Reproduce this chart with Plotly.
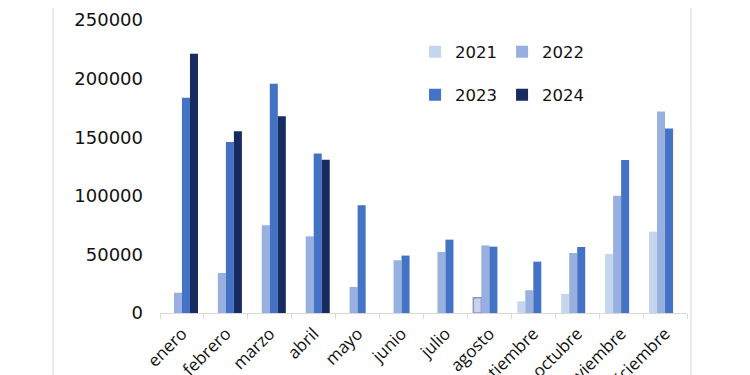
import plotly.graph_objects as go

months = ["enero", "febrero", "marzo", "abril", "mayo", "junio", "julio",
          "agosto", "septiembre", "octubre", "noviembre", "diciembre"]

v2021 = [None, None, None, None, None, None, None, 13100, 10000, 16200, 50300, 69400]
v2022 = [17300, 34100, 74800, 65400, 22200, 45000, 52000, 57700, 19400, 51200, 100100, 172000]
v2023 = [183600, 145900, 195700, 136000, 91900, 49000, 62600, 56600, 43800, 56300, 130500, 157500]
v2024 = [221300, 155000, 167800, 130800, None, None, None, None, None, None, None, None]

years = ["2021", "2022", "2023", "2024"]
colors = ["#C6D5EE", "#98B0DF", "#4472C4", "#172B60"]
legend_of = ["legend", "legend", "legend2", "legend2"]

line_2021 = ["#9D8FC4" if m == "agosto" else "rgba(0,0,0,0)" for m in months]

fig = go.Figure()
for yr, vals, col, lg in zip(years, [v2021, v2022, v2023, v2024], colors, legend_of):
    mk = dict(color=col)
    if yr == "2021":
        mk["line"] = dict(color=line_2021, width=1.5)
    else:
        mk["line"] = dict(width=0)
    fig.add_trace(go.Bar(name=yr, x=months, y=vals, marker=mk, legend=lg))

font = "Open Sans, Liberation Sans, sans-serif"
numfont = "DejaVu Sans, sans-serif"

fig.update_layout(
    width=750, height=375,
    margin=dict(l=152, r=71, t=12, b=70, autoexpand=False),
    paper_bgcolor="white", plot_bgcolor="white",
    barmode="group", bargap=0.27, bargroupgap=0,
    font=dict(family=font, color="#111111", size=18),
    showlegend=True,
    legend=dict(orientation="h", x=0.484, y=0.891, xanchor="left", yanchor="middle",
                font=dict(size=16.5, family=numfont), bgcolor="rgba(0,0,0,0)",
                traceorder="normal"),
    legend2=dict(orientation="h", x=0.484, y=0.744, xanchor="left", yanchor="middle",
                 font=dict(size=16.5, family=numfont), bgcolor="rgba(0,0,0,0)",
                 traceorder="normal"),
    xaxis=dict(
        type="category", tickangle=-45, tickfont=dict(size=17, family=font),
        showline=True, linecolor="#D9D9D9", linewidth=1,
        ticks="outside", tickson="boundaries", ticklen=5, tickcolor="#D9D9D9",
        showgrid=False, automargin=False, ticklabelstandoff=3,
    ),
    yaxis=dict(
        range=[0, 250000], tickvals=[0, 50000, 100000, 150000, 200000, 250000],
        tickformat="d", tickfont=dict(size=18, family=numfont),
        showgrid=False, showline=False, zeroline=False,
        ticklabelstandoff=16, automargin=False,
    ),
    shapes=[
        dict(type="line", xref="paper", yref="paper", x0=-0.203, x1=-0.203, y0=-1, y1=2,
             line=dict(color="#E4E4F0", width=1.5)),
        dict(type="line", xref="paper", yref="paper", x0=1.0076, x1=1.0076, y0=-1, y1=2,
             line=dict(color="#E4E4F0", width=1.5)),
    ],
)

fig.write_html("out.html")
